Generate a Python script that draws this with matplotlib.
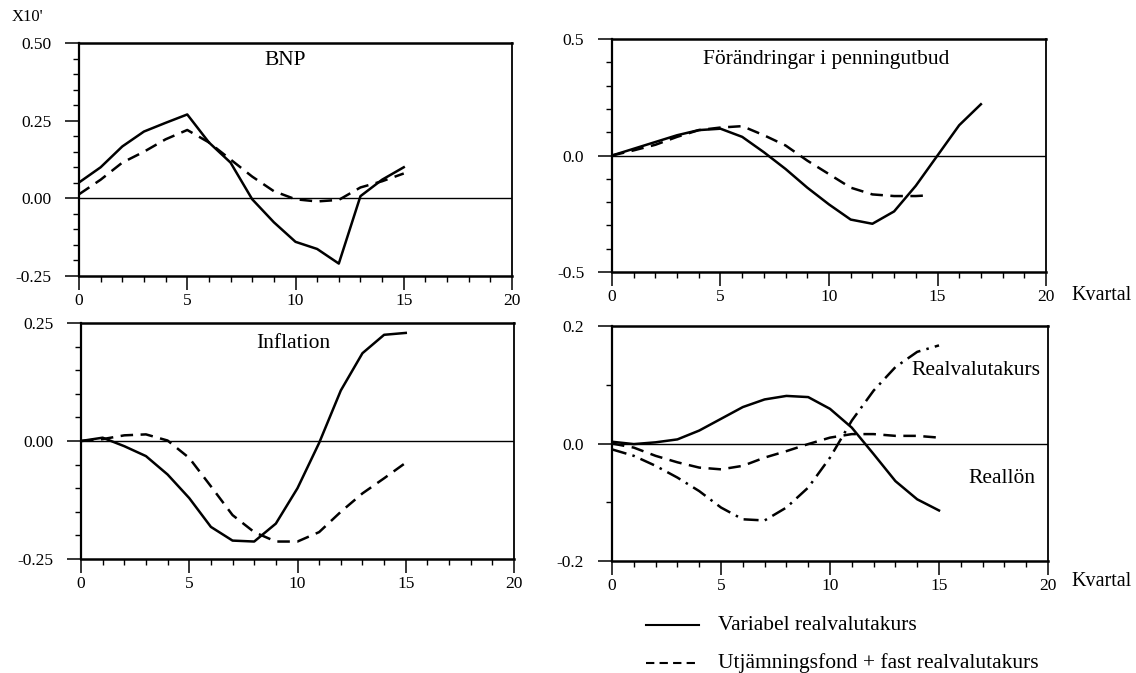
import matplotlib
matplotlib.use("Agg")
import matplotlib.pyplot as plt
import matplotlib.ticker as mticker
from matplotlib.lines import Line2D

plt.rcParams['font.family'] = ['Liberation Serif', 'DejaVu Serif']

kvartal = list(range(16))
kvartal_pu = list(range(18))
kvartal_pu_fast = [0, 1, 2, 3, 4, 5, 6, 7, 8, 9, 10, 11, 12, 13, 14, 14.6]

# BNP
bnp_var = [0.051, 0.10, 0.167, 0.215, 0.243, 0.27, 0.18, 0.115, -0.003, -0.077,
           -0.14, -0.163, -0.21, 0.007, 0.06, 0.10]
bnp_fast = [0.013, 0.06, 0.115, 0.15, 0.19, 0.22, 0.18, 0.125, 0.07, 0.023,
            -0.003, -0.01, -0.005, 0.035, 0.055, 0.08]

# Förändringar i penningutbud
pu_var = [0.0, 0.029, 0.058, 0.087, 0.109, 0.115, 0.08, 0.014, -0.058, -0.138,
          -0.21, -0.275, -0.293, -0.24, -0.13, 0.0, 0.13, 0.22]
pu_fast = [0.0, 0.022, 0.046, 0.08, 0.109, 0.12, 0.126, 0.087, 0.043, -0.022,
           -0.08, -0.138, -0.167, -0.174, -0.174, -0.171]

# Inflation
infl_var = [0.0, 0.007, -0.011, -0.032, -0.071, -0.121, -0.182, -0.211, -0.213,
            -0.175, -0.10, -0.004, 0.107, 0.186, 0.225, 0.229]
infl_fast = [0.0, 0.004, 0.012, 0.014, 0.001, -0.036, -0.096, -0.157, -0.193,
             -0.213, -0.213, -0.193, -0.15, -0.111, -0.079, -0.046]

# Reallön / Realvalutakurs
reallon_var = [0.003, -0.001, 0.002, 0.007, 0.022, 0.042, 0.062, 0.075, 0.081,
               0.079, 0.059, 0.027, -0.018, -0.064, -0.095, -0.114]
reallon_fast = [0.0, -0.007, -0.021, -0.032, -0.041, -0.044, -0.038, -0.024,
                -0.013, -0.001, 0.01, 0.016, 0.016, 0.013, 0.013, 0.01]
realval_var = [-0.01, -0.021, -0.038, -0.058, -0.081, -0.109, -0.129, -0.131,
               -0.109, -0.075, -0.024, 0.039, 0.09, 0.13, 0.156, 0.167]

DASH = (0, (5, 3))
DASHDOT = (0, (6, 2.5, 1, 2.5))
LW = 1.8
W, H = 1136.0, 673.0


def setupAxes(ax, ylim, yticks, ylabels, yminor, title, tx=0.5, ty=0.92):
    ax.set_xlim(0, 20)
    ax.set_ylim(*ylim)
    ax.set_xticks([0, 5, 10, 15, 20])
    ax.xaxis.set_minor_locator(mticker.MultipleLocator(1))
    ax.set_yticks(yticks)
    ax.set_yticklabels(ylabels)
    ax.yaxis.set_minor_locator(mticker.MultipleLocator(yminor))
    ax.tick_params(which='major', direction='out', length=10, width=1.1,
                   labelsize=12.5, colors='black')
    ax.tick_params(axis='x', which='major', pad=2)
    ax.tick_params(axis='y', which='major', pad=10)
    ax.tick_params(which='minor', direction='out', length=4.5, width=1.0)
    ax.spines['left'].set_linewidth(1.6)
    ax.spines['right'].set_linewidth(1.3)
    for side in ['top', 'bottom']:
        ax.spines[side].set_linewidth(1.8)
    ax.axhline(0, color='black', lw=1.0)
    if title:
        ax.text(tx, ty, title, transform=ax.transAxes, ha='center',
                va='center', fontsize=15.5)


fig = plt.figure(figsize=(11.36, 6.73), dpi=100)

ax1 = fig.add_axes([79 / W, 1 - 276 / H, 433 / W, 233 / H])
ax1.plot(kvartal, bnp_var, color='black', lw=LW)
ax1.plot(kvartal, bnp_fast, color='black', lw=LW, linestyle=DASH)
setupAxes(ax1, (-0.25, 0.50), [-0.25, 0.0, 0.25, 0.50],
          ['-0.25', '0.00', '0.25', '0.50'], 0.05, 'BNP', 0.476, 0.923)

ax2 = fig.add_axes([612 / W, 1 - 272 / H, 434 / W, 233 / H])
ax2.plot(kvartal_pu, pu_var, color='black', lw=LW)
ax2.plot(kvartal_pu_fast, pu_fast, color='black', lw=LW, linestyle=DASH)
setupAxes(ax2, (-0.5, 0.5), [-0.5, 0.0, 0.5], ['-0.5', '0.0', '0.5'], 0.1,
          'Förändringar i penningutbud', 0.493, 0.914)

ax3 = fig.add_axes([81 / W, 1 - 559 / H, 433 / W, 236 / H])
ax3.plot(kvartal, infl_var, color='black', lw=LW)
ax3.plot(kvartal, infl_fast, color='black', lw=LW, linestyle=DASH)
setupAxes(ax3, (-0.25, 0.25), [-0.25, 0.0, 0.25],
          ['-0.25', '0.00', '0.25'], 0.05, 'Inflation', 0.49, 0.915)

ax4 = fig.add_axes([612 / W, 1 - 561 / H, 436 / W, 235 / H])
ax4.plot(kvartal, reallon_var, color='black', lw=LW)
ax4.plot(kvartal, reallon_fast, color='black', lw=LW, linestyle=DASH)
ax4.plot(kvartal, realval_var, color='black', lw=LW, linestyle=DASHDOT)
setupAxes(ax4, (-0.2, 0.2), [-0.2, 0.0, 0.2], ['-0.2', '0.0', '0.2'], 0.1, '')
ax4.text(0.835, 0.809, 'Realvalutakurs', transform=ax4.transAxes,
         ha='center', va='center', fontsize=15.5)
ax4.text(0.894, 0.353, 'Reallön', transform=ax4.transAxes,
         ha='center', va='center', fontsize=15.5)

# axis unit labels
fig.text(1071 / W, 1 - 295 / H, 'Kvartal', fontsize=14.5, va='center')
fig.text(1071 / W, 1 - 581 / H, 'Kvartal', fontsize=14.5, va='center')
fig.text(12 / W, 1 - 17 / H, "X10'", fontsize=12, va='center')

# legend
fig.add_artist(Line2D([646 / W, 699 / W], [1 - 625 / H] * 2,
                      color='black', lw=1.5))
fig.add_artist(Line2D([646 / W, 699 / W], [1 - 663 / H] * 2,
                      color='black', lw=1.5, linestyle=(0, (4, 2.5))))
fig.text(718 / W, 1 - 625 / H, 'Variabel realvalutakurs', fontsize=15.5,
         va='center')
fig.text(718 / W, 1 - 663 / H, 'Utjämningsfond + fast realvalutakurs',
         fontsize=15.5, va='center')

fig.savefig('out.png', dpi=100)
